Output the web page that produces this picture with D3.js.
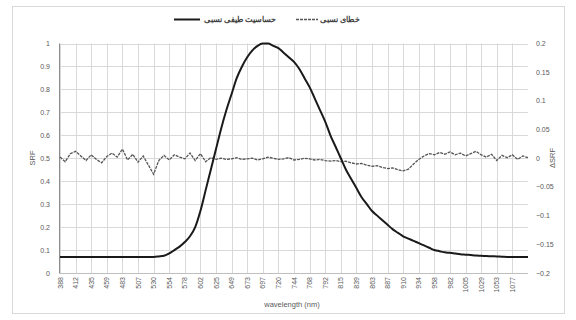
<!DOCTYPE html>
<html>
<head>
<meta charset="utf-8">
<script src="https://cdn.jsdelivr.net/npm/d3@7"></script>
<style>
  body { margin: 0; background: #fff; }
  text { font-family: "Liberation Sans", Arial, sans-serif; }
</style>
</head>
<body>
<svg id="chart" width="576" height="320"></svg>
<script>
// wavelength labels shown every 3rd point
var waveLabels = [388, 412, 435, 459, 483, 507, 530, 554, 578, 602, 625, 649, 673, 697, 720,
                  744, 768, 792, 815, 839, 863, 887, 910, 934, 958, 982, 1005, 1029, 1053, 1077];

// relative spectral response (left axis)
var srf = [0.07, 0.07, 0.07, 0.07, 0.07, 0.07, 0.07, 0.07, 0.07, 0.07,
           0.07, 0.07, 0.07, 0.07, 0.07, 0.07, 0.07, 0.07, 0.07, 0.072,
           0.075, 0.085, 0.10, 0.115, 0.135, 0.16, 0.20, 0.27, 0.36, 0.45,
           0.54, 0.63, 0.71, 0.78, 0.85, 0.90, 0.94, 0.97, 0.99, 1.0,
           1.0, 0.99, 0.98, 0.96, 0.94, 0.92, 0.89, 0.85, 0.81, 0.76,
           0.71, 0.66, 0.60, 0.55, 0.50, 0.45, 0.41, 0.37, 0.33, 0.30,
           0.27, 0.25, 0.23, 0.21, 0.19, 0.175, 0.16, 0.15, 0.14, 0.13,
           0.12, 0.11, 0.10, 0.095, 0.09, 0.088, 0.085, 0.082, 0.08, 0.078,
           0.076, 0.075, 0.074, 0.073, 0.072, 0.071, 0.07, 0.07, 0.07, 0.07, 0.07];

// relative error (right axis)
var relErr = [0.002, -0.006, 0.008, 0.012, 0.004, -0.004, 0.006, -0.002, -0.008, 0.003,
              0.009, 0.002, 0.016, -0.003, 0.007, -0.007, 0.004, -0.012, -0.028, -0.004,
              0.005, -0.003, 0.006, 0.002, -0.001, 0.009, -0.004, 0.008, -0.006, 0.001,
              -0.002, 0.000, -0.002, -0.001, 0.001, -0.002, -0.001, 0.000, -0.003, -0.001,
              0.002, 0.000, -0.002, -0.001, 0.001, -0.003, -0.002, 0.000, -0.001, -0.003,
              -0.002, -0.004, -0.005, -0.004, -0.006, -0.005, -0.008, -0.010, -0.009, -0.012,
              -0.014, -0.013, -0.016, -0.018, -0.017, -0.020, -0.022, -0.019, -0.010, -0.002,
              0.004, 0.008, 0.006, 0.010, 0.007, 0.011, 0.006, 0.009, 0.004, 0.008,
              0.012, 0.006, 0.002, 0.007, -0.004, 0.005, 0.001, 0.006, -0.002, 0.004, 0.001];

var leftTicks = [0, 0.1, 0.2, 0.3, 0.4, 0.5, 0.6, 0.7, 0.8, 0.9, 1];
var rightTicks = [-0.2, -0.15, -0.1, -0.05, 0, 0.05, 0.1, 0.15, 0.2];

var legendNames = ["حساسیت طیفی نسبی", "خطای نسبی"];

var plot = {left: 59, right: 528, top: 43.5, bottom: 273};
var labelStep = 3;

var svg = d3.select("#chart");

// chart area border
svg.append("rect")
    .attr("x", 12.5).attr("y", 6.5)
    .attr("width", 552).attr("height", 307)
    .attr("fill", "#fff")
    .attr("stroke", "#d9d9d9");

// scales
var x = d3.scaleLinear()
    .domain([0, srf.length - 1])
    .range([plot.left + 1, plot.right]);

var yL = d3.scaleLinear().domain([0, 1]).range([plot.bottom, plot.top]);
var yR = d3.scaleLinear().domain([-0.2, 0.2]).range([plot.bottom, plot.top]);

// gridlines
svg.append("g")
  .selectAll("line")
  .data(leftTicks.slice(1))
  .enter().append("line")
    .attr("x1", plot.left).attr("x2", plot.right)
    .attr("y1", function(d) { return Math.round(yL(d)) + 0.5; })
    .attr("y2", function(d) { return Math.round(yL(d)) + 0.5; })
    .attr("stroke", "#d9d9d9");

svg.append("g")
  .selectAll("line")
  .data(waveLabels)
  .enter().append("line")
    .attr("x1", function(d, i) { return Math.round(x(i * labelStep)) + 0.5; })
    .attr("x2", function(d, i) { return Math.round(x(i * labelStep)) + 0.5; })
    .attr("y1", plot.top).attr("y2", plot.bottom)
    .attr("stroke", "#d9d9d9");

// axis lines
svg.append("line")
    .attr("x1", plot.left).attr("x2", plot.right)
    .attr("y1", plot.bottom + 0.5).attr("y2", plot.bottom + 0.5)
    .attr("stroke", "#bfbfbf");
svg.append("line")
    .attr("x1", plot.left + 0.5).attr("x2", plot.left + 0.5)
    .attr("y1", plot.top).attr("y2", plot.bottom)
    .attr("stroke", "#8c8c8c");

// left axis labels
svg.append("g")
  .selectAll("text")
  .data(leftTicks)
  .enter().append("text")
    .attr("x", 50)
    .attr("y", function(d) { return yL(d) + 2.5; })
    .attr("text-anchor", "end")
    .attr("font-size", 7)
    .attr("fill", "#595959")
    .text(function(d) { return d3.format("~g")(d); });

// right axis labels
svg.append("g")
  .selectAll("text")
  .data(rightTicks)
  .enter().append("text")
    .attr("x", 536)
    .attr("y", function(d) { return yR(d) + 2.5; })
    .attr("text-anchor", "start")
    .attr("font-size", 7)
    .attr("fill", "#595959")
    .text(function(d) { return d3.format("~g")(d); });

// x labels, rotated
svg.append("g")
  .selectAll("text")
  .data(waveLabels)
  .enter().append("text")
    .attr("transform", function(d, i) {
      return "translate(" + (x(i * labelStep) + 2.5) + "," + (plot.bottom + 4) + ") rotate(-90)";
    })
    .attr("text-anchor", "end")
    .attr("font-size", 7)
    .attr("fill", "#595959")
    .text(function(d) { return d; });

// axis titles
svg.append("text")
    .attr("x", 292).attr("y", 307)
    .attr("text-anchor", "middle")
    .attr("font-size", 7.5)
    .attr("fill", "#595959")
    .text("wavelength (nm)");

svg.append("text")
    .attr("transform", "translate(35,158) rotate(-90)")
    .attr("text-anchor", "middle")
    .attr("font-size", 7.5)
    .attr("fill", "#595959")
    .text("SRF");

svg.append("text")
    .attr("transform", "translate(555,158) rotate(-90)")
    .attr("text-anchor", "middle")
    .attr("font-size", 7.5)
    .attr("fill", "#595959")
    .text("ΔSRF");

// series
var lineL = d3.line()
    .x(function(d, i) { return x(i); })
    .y(function(d) { return yL(d); })
    .curve(d3.curveMonotoneX);

var lineR = d3.line()
    .x(function(d, i) { return x(i); })
    .y(function(d) { return yR(d); });

svg.append("path")
    .datum(relErr)
    .attr("d", lineR)
    .attr("fill", "none")
    .attr("stroke", "#555")
    .attr("stroke-width", 1.3)
    .attr("stroke-dasharray", "3,1");

svg.append("path")
    .datum(srf)
    .attr("d", lineL)
    .attr("fill", "none")
    .attr("stroke", "#1a1a1a")
    .attr("stroke-width", 2);

// legend
var legend = svg.append("g").attr("font-size", 7.5).attr("font-weight", "bold").attr("fill", "#404040");

legend.append("line")
    .attr("x1", 174).attr("x2", 200).attr("y1", 19.5).attr("y2", 19.5)
    .attr("stroke", "#1a1a1a").attr("stroke-width", 2);
legend.append("text")
    .attr("x", 240).attr("y", 22)
    .attr("text-anchor", "middle")
    .text(legendNames[0]);

legend.append("line")
    .attr("x1", 296).attr("x2", 318).attr("y1", 19.5).attr("y2", 19.5)
    .attr("stroke", "#555").attr("stroke-width", 1.3)
    .attr("stroke-dasharray", "3,1");
legend.append("text")
    .attr("x", 340).attr("y", 22)
    .attr("text-anchor", "middle")
    .text(legendNames[1]);
</script>
</body>
</html>
